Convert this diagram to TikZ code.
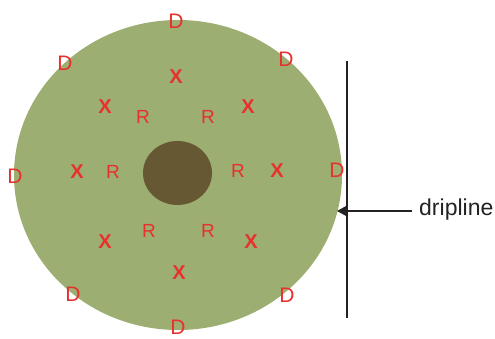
\documentclass[tikz,border=0pt]{standalone}
\usepackage{fontspec}
\setmainfont{Liberation Sans}
\usetikzlibrary{arrows.meta}
\definecolor{canopy}{HTML}{9CAE72}
\definecolor{trunk}{HTML}{665832}
\definecolor{mark}{HTML}{E8302C}
\definecolor{ink}{HTML}{222222}
\tikzset{
  dlab/.style={text=mark, font=\fontsize{21}{21}\selectfont, inner sep=0pt},
  xlab/.style={text=mark, font=\fontsize{20}{20}\selectfont\bfseries, inner sep=0pt},
  rlab/.style={text=mark, font=\fontsize{19}{19}\selectfont, inner sep=0pt},
}
\begin{document}
\begin{tikzpicture}[x=1pt,y=-1pt]
\useasboundingbox (0,0) rectangle (495,339);
\fill[canopy] (178,175) ellipse [x radius=164, y radius=155];
\fill[trunk] (177.5,173) ellipse [x radius=34.5, y radius=32];
% D labels
\node[dlab] (d1) at (176,21) {D};
\node[dlab] (d2) at (65,63) {D};
\node[dlab] (d3) at (286,59) {D};
\node[dlab] (d4) at (15,176) {D};
\node[dlab] (d5) at (337,170) {D};
\node[dlab] (d6) at (73,294) {D};
\node[dlab] (d7) at (287,295) {D};
\node[dlab] (d8) at (178,327.5) {D};
% X labels
\node[xlab] (x1) at (176,77) {X};
\node[xlab] (x2) at (105,107) {X};
\node[xlab] (x3) at (248,107) {X};
\node[xlab] (x4) at (77,172) {X};
\node[xlab] (x5) at (277,171) {X};
\node[xlab] (x6) at (105,242) {X};
\node[xlab] (x7) at (251,242) {X};
\node[xlab] (x8) at (179,273) {X};
% R labels
\node[rlab] (r1) at (143,117) {R};
\node[rlab] (r2) at (208,117) {R};
\node[rlab] (r3) at (113,172) {R};
\node[rlab] (r4) at (238,171) {R};
\node[rlab] (r5) at (149,231) {R};
\node[rlab] (r6) at (208,231) {R};
% dripline
\coordinate (lt) at (347,61);
\coordinate (lb) at (347,318);
\draw[ink, line width=1.1pt] (lt) -- (lb);
\node[text=ink, font=\fontsize{23}{23}\selectfont, anchor=west, inner sep=0pt] (drip) at (419,210) {dripline};
\coordinate (tip) at (337,211);
\draw[ink, line width=1.1pt, -{Stealth[length=11pt,width=12pt,inset=3pt]}] (drip.west |- tip) ++(-7,0) -- (tip);
\end{tikzpicture}
\end{document}
